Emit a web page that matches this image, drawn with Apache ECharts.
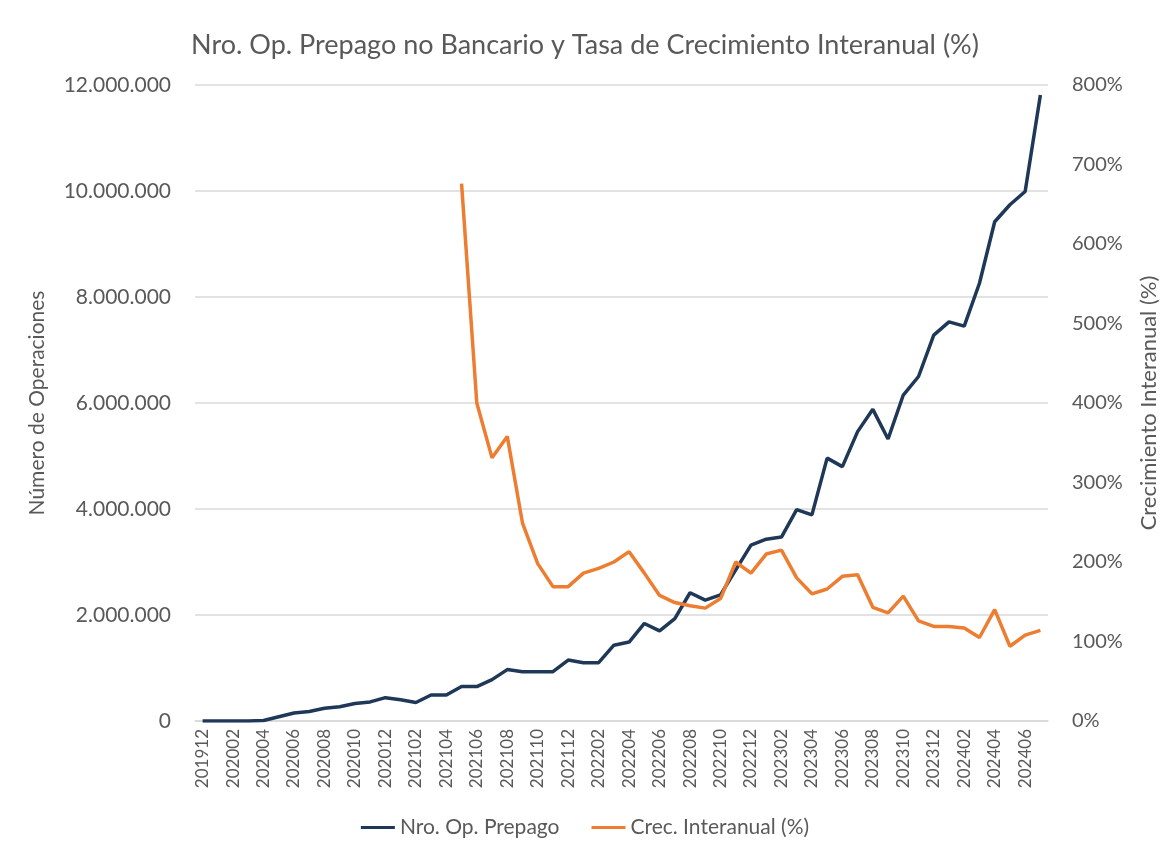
<!DOCTYPE html>
<html>
<head>
<meta charset="utf-8">
<script src="https://cdn.jsdelivr.net/npm/echarts@6/dist/echarts.min.js"></script>
<style>
  html, body { margin: 0; padding: 0; background: #fff; }
  #chart-panel { width: 1170px; height: 853px; }
</style>
</head>
<body>
<div id="chart-panel"></div>
<script>
var categories = [
  '201912',
  '202001', '202002', '202003', '202004', '202005', '202006', '202007', '202008', '202009', '202010', '202011', '202012',
  '202101', '202102', '202103', '202104', '202105', '202106', '202107', '202108', '202109', '202110', '202111', '202112',
  '202201', '202202', '202203', '202204', '202205', '202206', '202207', '202208', '202209', '202210', '202211', '202212',
  '202301', '202302', '202303', '202304', '202305', '202306', '202307', '202308', '202309', '202310', '202311', '202312',
  '202401', '202402', '202403', '202404', '202405', '202406', '202407'
];

// Nro. Op. Prepago (operaciones)
var operaciones = [
  0,
  0, 0, 0, 10000, 80000, 150000, 180000, 240000, 270000, 330000, 360000, 440000,
  400000, 350000, 490000, 490000, 650000, 650000, 780000, 970000, 930000, 930000, 930000, 1150000,
  1100000, 1100000, 1430000, 1490000, 1840000, 1700000, 1930000, 2420000, 2280000, 2380000, 2850000, 3320000,
  3430000, 3470000, 3990000, 3890000, 4960000, 4800000, 5460000, 5880000, 5320000, 6150000, 6500000, 7280000,
  7530000, 7450000, 8260000, 9420000, 9740000, 9990000, 11810000
];

// Crec. Interanual (%)
var crecimiento = [
  null,
  null, null, null, null, null, null, null, null, null, null, null, null,
  null, null, null, null, 676, 400, 331, 358, 249, 198, 169, 169,
  186, 192, 200, 213, 186, 158, 149, 145, 142, 154, 200, 186,
  210, 215, 180, 160, 166, 182, 184, 143, 136, 157, 126, 119,
  119, 117, 105, 140, 94, 108, 114
];

var textColor = '#595959';
var fontFam = 'Lato, "Open Sans", sans-serif';

var chart = document.getElementById('chart-panel');
var myChart = echarts.init(chart);

function miles(v) {
  return String(v).replace(/\B(?=(\d{3})+(?!\d))/g, '.');
}

var option = {
  backgroundColor: '#fff',
  animation: false,
  textStyle: { fontFamily: fontFam, color: textColor },
  title: {
    text: 'Nro. Op. Prepago no Bancario y Tasa de Crecimiento Interanual (%)',
    left: 'center',
    top: 27,
    textStyle: { fontSize: 27, fontWeight: 'normal', color: textColor, fontFamily: fontFam }
  },
  legend: {
    bottom: 10,
    left: 'center',
    icon: 'rect',
    itemWidth: 34,
    itemHeight: 3,
    itemGap: 32,
    textStyle: { fontSize: 21, color: textColor, fontFamily: fontFam },
    data: ['Nro. Op. Prepago', 'Crec. Interanual (%)']
  },
  grid: {
    left: 195,
    right: 122,
    top: 85,
    bottom: 132,
    outerBoundsMode: 'none'
  },
  xAxis: {
    type: 'category',
    data: categories,
    axisLine: { lineStyle: { color: '#d9d9d9', width: 1.5 } },
    axisTick: { show: false },
    axisLabel: {
      interval: 1,
      rotate: 90,
      margin: 8,
      fontSize: 17,
      color: textColor,
      fontFamily: fontFam
    }
  },
  yAxis: [
    {
      type: 'value',
      min: 0,
      max: 12000000,
      interval: 2000000,
      name: 'Número de Operaciones',
      nameLocation: 'middle',
      nameGap: 147,
      nameTextStyle: { fontSize: 21, color: textColor, fontFamily: fontFam },
      axisLine: { show: false },
      axisTick: { show: false },
      axisLabel: {
        margin: 24,
        fontSize: 21,
        color: textColor,
        fontFamily: fontFam,
        formatter: miles
      },
      splitLine: { lineStyle: { color: '#d9d9d9', width: 1.5 } }
    },
    {
      type: 'value',
      min: 0,
      max: 800,
      interval: 100,
      name: 'Crecimiento Interanual (%)',
      nameLocation: 'middle',
      nameGap: 90,
      nameTextStyle: { fontSize: 22, color: textColor, fontFamily: fontFam },
      axisLine: { show: false },
      axisTick: { show: false },
      axisLabel: {
        margin: 24,
        fontSize: 20,
        color: textColor,
        fontFamily: fontFam,
        formatter: '{value}%'
      },
      splitLine: { show: false }
    }
  ],
  series: [
    {
      name: 'Nro. Op. Prepago',
      type: 'line',
      yAxisIndex: 0,
      data: operaciones,
      showSymbol: false,
      symbol: 'none',
      color: '#1f3857',
      lineStyle: { color: '#1f3857', width: 3.5 }
    },
    {
      name: 'Crec. Interanual (%)',
      type: 'line',
      yAxisIndex: 1,
      data: crecimiento,
      showSymbol: false,
      symbol: 'none',
      color: '#ed7d31',
      lineStyle: { color: '#ed7d31', width: 3.5 }
    }
  ]
};

myChart.setOption(option);
</script>
</body>
</html>
